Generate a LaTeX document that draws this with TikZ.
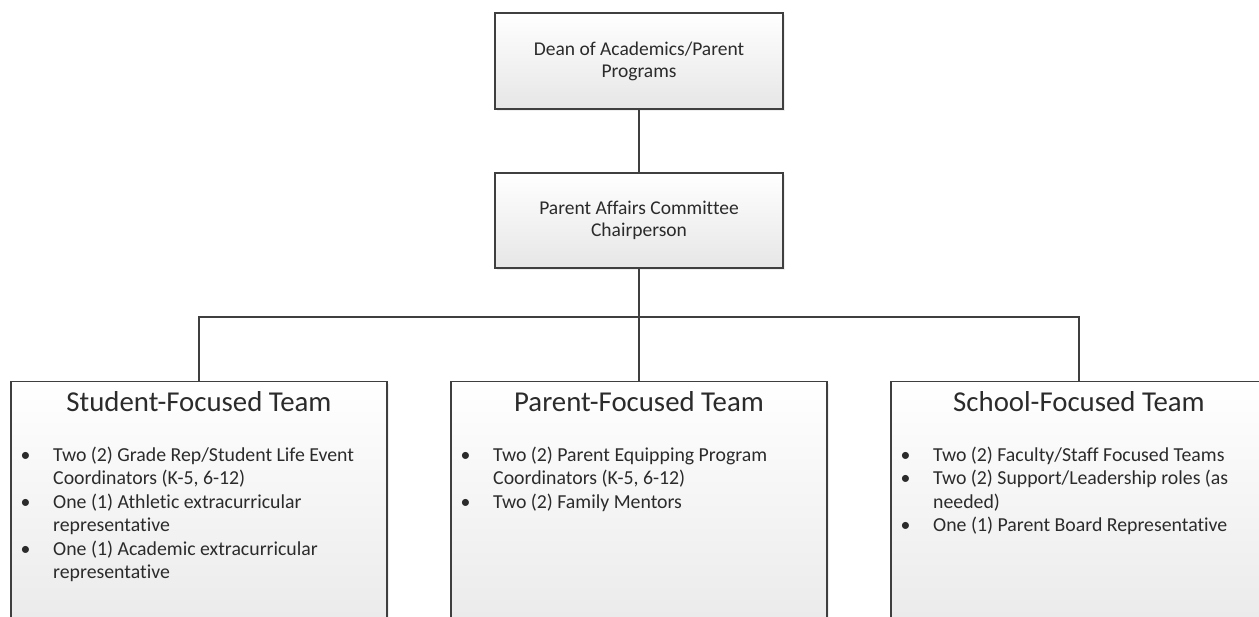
\documentclass[tikz,border=0pt]{standalone}
\usepackage{fontspec}
\setmainfont[Ligatures=NoCommon]{Carlito}
\usetikzlibrary{shadows}
\definecolor{edge}{HTML}{3F3F3F}
\definecolor{ink}{HTML}{2B2B2B}
\definecolor{shadebot}{HTML}{E6E6E6}
\definecolor{teambot}{HTML}{E9E9E9}
\newcommand{\bul}{\makebox[32.5pt][l]{\textbullet}}
\newcommand{\ind}{\hspace*{32.5pt}}
\tikzset{
  orgbox/.style={draw=edge, line width=1.4pt, top color=white, bottom color=shadebot,
    inner sep=0pt, align=center, text=ink, minimum width=288pt, minimum height=96pt,
    font=\fontsize{19.5}{22}\selectfont,
    drop shadow={opacity=0.12, shadow xshift=2pt, shadow yshift=-2pt}},
  teambox/.style={draw=edge, line width=1.4pt, top color=white, bottom color=teambot,
    minimum width=376pt, minimum height=259pt, inner sep=0pt, anchor=north,
    drop shadow={opacity=0.12, shadow xshift=2pt, shadow yshift=-2pt}},
  teamtitle/.style={font=\fontsize{28.8}{32}\selectfont, text=ink, anchor=base, inner sep=0pt},
  teamlist/.style={font=\fontsize{19.8}{23.5}\selectfont, text=ink, anchor=north west,
    inner sep=0pt, align=left},
  link/.style={draw=edge, line width=1.4pt},
}
\begin{document}
\begin{tikzpicture}[x=1pt, y=-1pt]
\useasboundingbox (0,0) rectangle (1259,617);
\clip (0,0) rectangle (1259,617);
\fill[white] (0,0) rectangle (1259,617);

\node[orgbox] (dean) at (639,61) {Dean of Academics/Parent\\Programs};
\node[orgbox, minimum height=95pt] (chair) at (639,220.5) {Parent Affairs Committee\\Chairperson};

\node[teambox] (student) at (199,381) {};
\node[teambox] (parent) at (639,381) {};
\node[teambox] (school) at (1079,381) {};

\coordinate (bar) at (639,317);
\draw[link] (dean) -- (chair);
\draw[link] (chair.south) -- (bar);
\draw[link] (bar) -| (student.north);
\draw[link] (bar) -| (school.north);
\draw[link] (bar) -- (parent.north);

\node[teamtitle] (t1) at (199,411.3) {Student-Focused Team};
\node[teamtitle] (t2) at (639,411.3) {Parent-Focused Team};
\node[teamtitle] (t3) at (1079,411.3) {School-Focused Team};

\node[teamlist] (l1) at (20.5,444.5) {\strut\bul Two (2) Grade Rep/Student Life Event\\
  \ind Coordinators (K-5, 6-12)\\
  \bul One (1) Athletic extracurricular\\
  \ind representative\\
  \bul One (1) Academic extracurricular\\
  \ind representative};
\node[teamlist] (l2) at (460.5,444.5) {\strut\bul Two (2) Parent Equipping Program\\
  \ind Coordinators (K-5, 6-12)\\
  \bul Two (2) Family Mentors};
\node[teamlist] (l3) at (900.5,444.5) {\strut\bul Two (2) Faculty/Staff Focused Teams\\
  \bul Two (2) Support/Leadership roles (as\\
  \ind needed)\\
  \bul One (1) Parent Board Representative};
\end{tikzpicture}
\end{document}
